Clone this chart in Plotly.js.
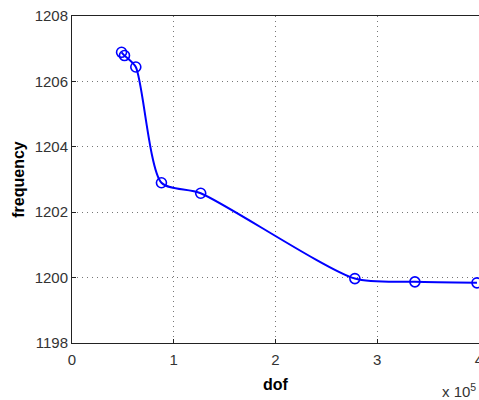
<!DOCTYPE html>
<html><head><meta charset="utf-8">
<script src="https://cdn.plot.ly/plotly-3.0.1.min.js"></script>
<style>html,body{margin:0;padding:0;background:#fff;}#chart{width:479px;height:400px;}</style>
</head><body><div id="chart"></div>
<script>
const dof = [0.487, 0.516, 0.627, 0.879, 1.265, 2.78, 3.37, 3.98];
const frequency = [1206.89, 1206.79, 1206.44, 1202.90, 1202.58, 1199.97, 1199.87, 1199.84];
const xTicks = [0, 1, 2, 3, 4];
const yTicks = [1198, 1200, 1202, 1204, 1206, 1208];

const trace = {
  x: dof, y: frequency, type: 'scatter', mode: 'lines+markers',
  line: {color: '#0000ff', width: 2, shape: 'spline', smoothing: 0.7},
  marker: {symbol: 'circle-open', size: 10, color: '#0000ff', line: {width: 1.6, color: '#0000ff'}},
  cliponaxis: true
};
const fam = 'Liberation Sans, Arial, sans-serif';
const axisFont = {family: fam, size: 15, color: '#333'};
const layout = {
  width: 479, height: 400,
  margin: {l: 72, r: 0, t: 16, b: 57},
  paper_bgcolor: '#fff', plot_bgcolor: '#fff',
  showlegend: false,
  xaxis: {
    range: [0, 4], tickvals: xTicks, ticktext: xTicks.map(String),
    showgrid: true, gridcolor: '#777', griddash: '1px,4px', gridwidth: 1,
    showline: true, linecolor: '#222', linewidth: 1, mirror: true,
    ticks: 'inside', ticklen: 4, tickcolor: '#222', ticklabelstandoff: 3,
    zeroline: false, tickfont: axisFont, ticklabeloverflow: 'allow',
    title: {text: 'dof', font: {family: fam, size: 16, color: '#000', weight: 'bold'}, standoff: 11}
  },
  yaxis: {
    range: [1198, 1208], tickvals: yTicks, ticktext: yTicks.map(String),
    showgrid: true, gridcolor: '#777', griddash: '1px,4px', gridwidth: 1,
    showline: true, linecolor: '#222', linewidth: 1, mirror: true,
    ticks: 'inside', ticklen: 4, tickcolor: '#222',
    zeroline: false, tickfont: axisFont, ticklabeloverflow: 'allow',
    title: {text: 'frequency', font: {family: fam, size: 16, color: '#000', weight: 'bold'}, standoff: 6}
  },
  annotations: [{
    text: 'x 10<sup>5</sup>', xref: 'paper', yref: 'paper', x: 1.0, y: 0, xanchor: 'right', yanchor: 'top',
    xshift: -1, yshift: -36, showarrow: false,
    font: {family: fam, size: 15, color: '#333'}
  }]
};
Plotly.newPlot('chart', [trace], layout, {staticPlot: true, displayModeBar: false});
</script></body></html>
